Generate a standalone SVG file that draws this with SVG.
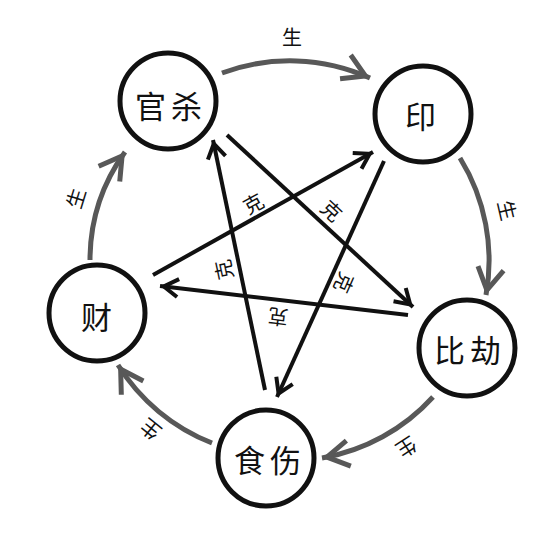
<svg xmlns="http://www.w3.org/2000/svg" width="537" height="537" viewBox="0 0 537 537">
<style>
.node circle{fill:#fff;stroke:#111;stroke-width:5}
.node text{font-family:"Noto Sans CJK SC","Noto Sans",sans-serif;font-size:31px;fill:#111;text-anchor:middle;dominant-baseline:central;letter-spacing:5px}
.gen{fill:none;stroke:#585858;stroke-width:5;marker-end:url(#gh)}
.ke{fill:none;stroke:#111;stroke-width:4;marker-end:url(#bh)}
.lbl{font-family:"Noto Sans CJK SC","Noto Sans",sans-serif;font-size:20px;fill:#111;text-anchor:middle;dominant-baseline:central}
</style>
<defs>
<marker id="gh" markerUnits="userSpaceOnUse" viewBox="-30 -20 40 40" markerWidth="40" markerHeight="40" refX="5" refY="0" orient="auto" overflow="visible">
<path d="M-22,-13 L0,0 L-22,13" fill="none" stroke="#585858" stroke-width="5"/>
</marker>
<marker id="bh" markerUnits="userSpaceOnUse" viewBox="-25 -15 30 30" markerWidth="30" markerHeight="30" refX="3.8" refY="0" orient="auto" overflow="visible">
<path d="M-14.4,-9 L0,0 L-14.4,9" fill="none" stroke="#111" stroke-width="4"/>
</marker>
</defs>
<rect width="537" height="537" fill="#fff"/>
<g id="connectors">
<path class="gen" d="M222,73 A195,195 0 0 1 370,78"/>
<path class="gen" d="M460,158 A195,195 0 0 1 486,295"/>
<path class="gen" d="M433,397 A195,195 0 0 1 322,458"/>
<path class="gen" d="M212,443 A195,195 0 0 1 118,365"/>
<path class="gen" d="M90,260 A185,185 0 0 1 125,152"/>
<path class="ke" d="M227,135 L413,307"/>
<path class="ke" d="M384,161 L277,397"/>
<path class="ke" d="M408,315 L160,286"/>
<path class="ke" d="M153,275 L373,152"/>
<path class="ke" d="M265,390 L213,140"/>
<text class="lbl" transform="translate(292,36)">生</text>
<text class="lbl" transform="translate(508,210) rotate(77)">生</text>
<text class="lbl" transform="translate(407,448) rotate(147)">生</text>
<text class="lbl" transform="translate(150,430) rotate(219)">生</text>
<text class="lbl" transform="translate(75,198) rotate(-73)">生</text>
<text class="lbl" transform="translate(253,203) rotate(-29)">克</text>
<text class="lbl" transform="translate(332,210) rotate(43)">克</text>
<text class="lbl" transform="translate(223,270) rotate(-102)">克</text>
<text class="lbl" transform="translate(345,283) rotate(114)">克</text>
<text class="lbl" transform="translate(278,318) rotate(187)">克</text>
</g>
<g id="guansha" class="node"><circle cx="168" cy="101" r="48"/><text x="171" y="104">官杀</text></g>
<g id="yin" class="node"><circle cx="423" cy="114" r="48"/><text x="423" y="114">印</text></g>
<g id="bijie" class="node"><circle cx="467" cy="348" r="48"/><text x="470" y="348">比劫</text></g>
<g id="shishang" class="node"><circle cx="266" cy="458" r="48"/><text x="270" y="458">食伤</text></g>
<g id="cai" class="node"><circle cx="97" cy="313" r="48"/><text x="99" y="315">财</text></g>
</svg>
